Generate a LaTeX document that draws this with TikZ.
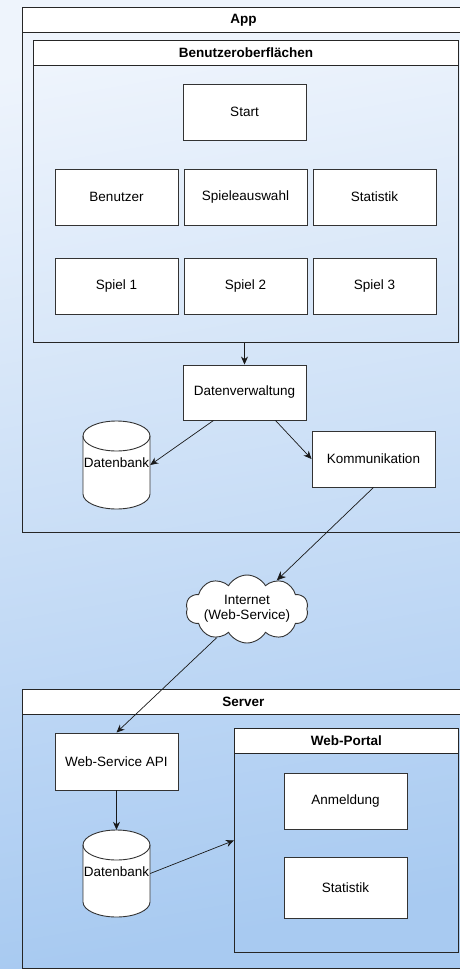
\documentclass[tikz,border=0pt]{standalone}
\usepackage{fontspec}
\setmainfont{Liberation Sans}
\usetikzlibrary{shapes.symbols,arrows.meta,calc}
\definecolor{bgtop}{HTML}{EEF4FC}
\definecolor{bgbottom}{HTML}{A8CAF1}
\definecolor{edge}{HTML}{333333}
\begin{document}
\begin{tikzpicture}[x=1pt,y=-1pt,
  every node/.style={font=\fontsize{13.5}{16}\selectfont, inner sep=0pt},
  box/.style={draw=edge, fill=white, line width=0.9pt, minimum width=123pt, minimum height=56pt},
  frame/.style={draw=black!85, line width=0.9pt, anchor=north west},
  titlebar/.style={draw=black!85, fill=white, line width=0.9pt, anchor=north west,
    minimum height=25pt, font=\fontsize{13.5}{16}\selectfont\bfseries},
  cylfill/.style={draw=edge, fill=white, line width=0.9pt},
  link/.style={draw=black!90, line width=0.7pt, -{Stealth[length=8pt,width=7pt]}}
]
% page and background
\useasboundingbox (0,0) rectangle (460,969);
\shade[top color=bgtop, bottom color=bgbottom, shading angle=10] (0,0) rectangle (460,969);

% ---------- App ----------
\node[frame, minimum width=442pt, minimum height=525pt] (app) at (22,7) {};
\node[titlebar, minimum width=442pt] (apptitle) at (22,7) {App};

\node[frame, minimum width=425pt, minimum height=302pt] (ui) at (33,40) {};
\node[titlebar, minimum width=425pt] (uititle) at (33,40) {Benutzeroberflächen};

\node[box] (start) at (244.5,112) {Start};
\node[box] (benutzer) at (116.5,197) {Benutzer};
\node[box] (auswahl) at (245.5,197) {Spieleauswahl};
\node[box] (stat) at (374.5,197) {Statistik};
\node[box] (spiel1) at (116.5,286) {Spiel 1};
\node[box] (spiel2) at (245.5,286) {Spiel 2};
\node[box] (spiel3) at (374.5,286) {Spiel 3};

\node[box, minimum height=55pt] (dv) at (244.5,392.5) {Datenverwaltung};
\node[box] (kom) at (373.5,459) {Kommunikation};

% database cylinder of the app
\node[minimum width=67pt, minimum height=88pt] (db1) at (116.5,465) {};
\filldraw[cylfill] (83,494) arc[start angle=180, end angle=360, x radius=33.5pt, y radius=15pt]
  -- (150,436) arc[start angle=0, end angle=180, x radius=33.5pt, y radius=15pt] -- cycle;
\draw[cylfill, fill=none] (83,436) arc[start angle=180, end angle=360, x radius=33.5pt, y radius=15pt];
\node at (116.5,463) {Datenbank};

% ---------- Internet ----------
\node[cloud, cloud puffs=10, cloud puff arc=120, cloud ignores aspect, draw=edge, fill=white,
  line width=0.9pt, minimum width=120pt, minimum height=68pt, align=center] (net) at (247,609)
  {Internet\\[-1pt](Web-Service)};

% ---------- Server ----------
\node[frame, minimum width=442pt, minimum height=279pt] (server) at (22,689) {};
\node[titlebar, minimum width=442pt] (servertitle) at (22,689) {Server};

\node[box, minimum height=57pt] (api) at (116.5,761.5) {Web-Service API};

\node[minimum width=67pt, minimum height=87pt] (db2) at (116.5,873.5) {};
\filldraw[cylfill] (83,902) arc[start angle=180, end angle=360, x radius=33.5pt, y radius=15pt]
  -- (150,845) arc[start angle=0, end angle=180, x radius=33.5pt, y radius=15pt] -- cycle;
\draw[cylfill, fill=none] (83,845) arc[start angle=180, end angle=360, x radius=33.5pt, y radius=15pt];
\node at (116.5,872) {Datenbank};

\node[frame, minimum width=224pt, minimum height=224pt] (portal) at (234,728) {};
\node[titlebar, minimum width=224pt] (portaltitle) at (234,728) {Web-Portal};
\node[box] (anm) at (345.5,801) {Anmeldung};
\node[box, minimum height=61pt] (stat2) at (345.5,887.5) {Statistik};

% ---------- connectors ----------
\draw[link] (ui.south -| dv.north) -- (dv.north);
\draw[link] ($(dv.south)!0.5!(dv.south west)$) -- (db1.east);
\draw[link] ($(dv.south)!0.5!(dv.south east)$) -- (kom.west);
\draw[link, -{Stealth[length=9pt,width=8pt]}] (kom.south) -- (net);
\draw[link] (net) -- (api.north);
\draw[link] (api.south) -- (db2.north);
\draw[link] (db2.east) -- (portal.west);
\end{tikzpicture}
\end{document}
